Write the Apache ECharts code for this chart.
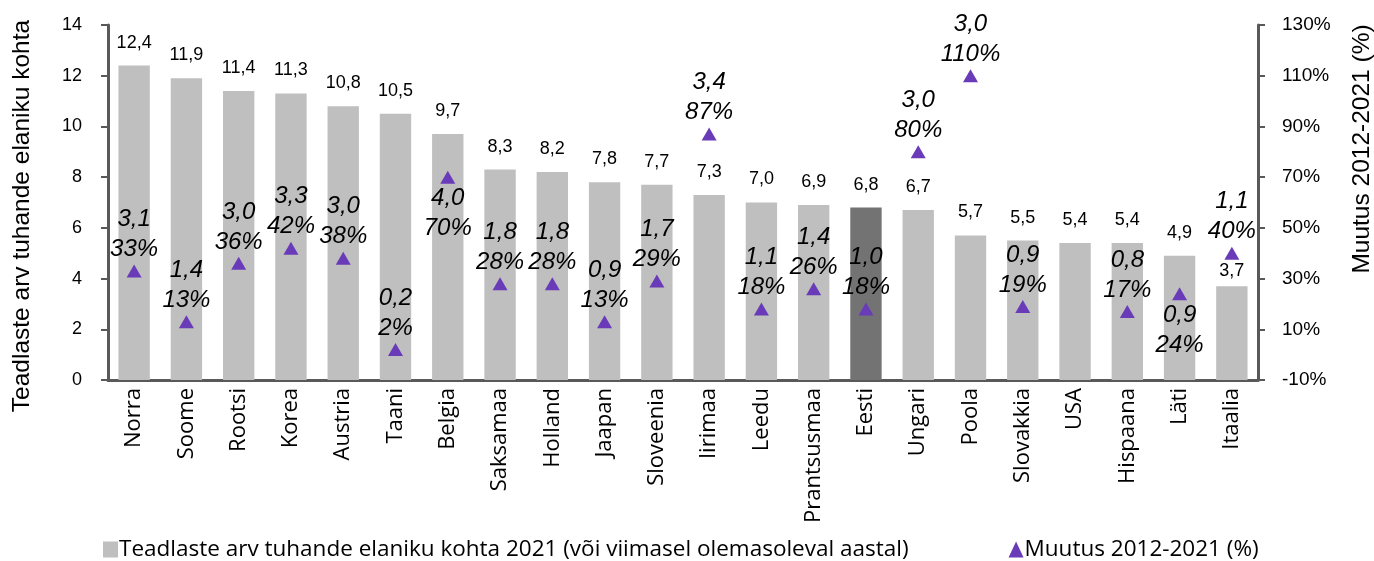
<!DOCTYPE html>
<html>
<head>
<meta charset="utf-8">
<script src="https://cdn.jsdelivr.net/npm/echarts@6/dist/echarts.min.js"></script>
<style>
  html, body { margin: 0; padding: 0; background: #fff; }
  #chart { width: 1374px; height: 561px; }
</style>
</head>
<body>
<div id="chart"></div>
<script>
// ---- data ----
const countries = ['Norra', 'Soome', 'Rootsi', 'Korea', 'Austria', 'Taani', 'Belgia', 'Saksamaa', 'Holland', 'Jaapan', 'Sloveenia',
  'Iirimaa', 'Leedu', 'Prantsusmaa', 'Eesti', 'Ungari', 'Poola', 'Slovakkia', 'USA', 'Hispaana', 'Läti', 'Itaalia'];
const researchers = [12.4, 11.9, 11.4, 11.3, 10.8, 10.5, 9.7, 8.3, 8.2, 7.8, 7.7, 7.3, 7.0, 6.9, 6.8, 6.7, 5.7, 5.5, 5.4, 5.4, 4.9, 3.7];
const changePct = [33, 13, 36, 42, 38, 2, 70, 28, 28, 13, 29, 87, 18, 26, 18, 80, 110, 19, null, 17, 24, 40];
const changeAbs = [3.1, 1.4, 3.0, 3.3, 3.0, 0.2, 4.0, 1.8, 1.8, 0.9, 1.7, 3.4, 1.1, 1.4, 1.0, 3.0, 3.0, 0.9, null, 0.8, 0.9, 1.1];
const leftTicks = { min: 0, max: 14, interval: 2 };
const rightTicks = { min: -10, max: 130, interval: 20 };

const highlight = 'Eesti';
const labelsBelow = ['Belgia', 'Läti'];

const ARIAL = '"Liberation Sans", Arial, sans-serif';
const comma = v => v.toFixed(1).replace('.', ',');

//---- chart ----
var myChart = echarts.init(document.getElementById('chart'));

const barData = researchers.map((v, i) => {
  const d = { value: v };
  if (countries[i] === highlight) d.itemStyle = { color: '#737373' };
  if (countries[i] === 'Itaalia') d.label = { distance: 6 };
  return d;
});

const triData = changePct.map((v, i) => {
  if (v === null) return null;
  const d = { value: v, abs: changeAbs[i] };
  if (labelsBelow.includes(countries[i])) d.label = { position: 'bottom' };
  return d;
});

myChart.setOption({
  animation: false,
  grid: { left: 108, right: 116, top: 25, bottom: 181 },
  legend: {
    left: 98, bottom: -5,
    itemGap: 100,
    itemWidth: 15, itemHeight: 16,
    textStyle: { fontFamily: 'Open Sans', fontSize: 22.5, color: '#000', padding: [0, 0, 0, -4] },
    data: [
      { name: 'Teadlaste arv tuhande elaniku kohta 2021 (või viimasel olemasoleval aastal)', icon: 'rect' },
      { name: 'Muutus 2012-2021 (%)', icon: 'triangle' }
    ]
  },
  xAxis: {
    type: 'category',
    data: countries,
    axisLine: { lineStyle: { color: '#595959', width: 3 } },
    axisTick: { show: false },
    axisLabel: { rotate: 90, color: '#000', fontFamily: 'Open Sans', fontSize: 22, margin: 8, interval: 0 }
  },
  yAxis: [
    {
      type: 'value',
      min: leftTicks.min, max: leftTicks.max, interval: leftTicks.interval,
      axisLine: { show: true, lineStyle: { color: '#595959', width: 3 } },
      axisTick: { show: true, length: 7, lineStyle: { color: '#595959', width: 2 } },
      axisLabel: { color: '#000', fontFamily: ARIAL, fontSize: 18, margin: 26 },
      splitLine: { show: false }
    },
    {
      type: 'value',
      position: 'right',
      min: rightTicks.min, max: rightTicks.max, interval: rightTicks.interval,
      axisLine: { show: true, lineStyle: { color: '#595959', width: 3 } },
      axisTick: { show: true, length: 7, lineStyle: { color: '#595959', width: 2 } },
      axisLabel: { color: '#000', fontFamily: ARIAL, fontSize: 19, margin: 24, formatter: '{value}%' },
      splitLine: { show: false }
    }
  ],
  graphic: [
    {
      type: 'text',
      x: 22, y: 216,
      rotation: Math.PI / 2,
      style: {
        text: 'Teadlaste arv tuhande elaniku kohta',
        font: '24.5px "Liberation Sans", Arial, sans-serif',
        fill: '#000', textAlign: 'center', textVerticalAlign: 'middle'
      }
    },
    {
      type: 'text',
      x: 1362, y: 149,
      rotation: Math.PI / 2,
      style: {
        text: 'Muutus 2012-2021 (%)',
        font: '24.5px "Liberation Sans", Arial, sans-serif',
        fill: '#000', textAlign: 'center', textVerticalAlign: 'middle'
      }
    }
  ],
  series: [
    {
      name: 'Teadlaste arv tuhande elaniku kohta 2021 (või viimasel olemasoleval aastal)',
      type: 'bar',
      yAxisIndex: 0,
      barWidth: '60%',
      itemStyle: { color: '#bfbfbf' },
      label: {
        show: true, position: 'top', distance: 14,
        color: '#000', fontFamily: ARIAL, fontSize: 18,
        formatter: p => comma(p.value)
      },
      data: barData
    },
    {
      name: 'Muutus 2012-2021 (%)',
      type: 'scatter',
      yAxisIndex: 1,
      symbol: 'triangle',
      symbolSize: [15, 13],
      itemStyle: { color: '#6a3bb8', opacity: 1 },
      label: {
        show: true, position: 'top', distance: 0,
        color: '#000', fontFamily: ARIAL, fontStyle: 'italic', fontSize: 24, lineHeight: 30,
        formatter: p => comma(p.data.abs) + '\n' + p.data.value + '%'
      },
      data: triData
    }
  ]
});
</script>
</body>
</html>
